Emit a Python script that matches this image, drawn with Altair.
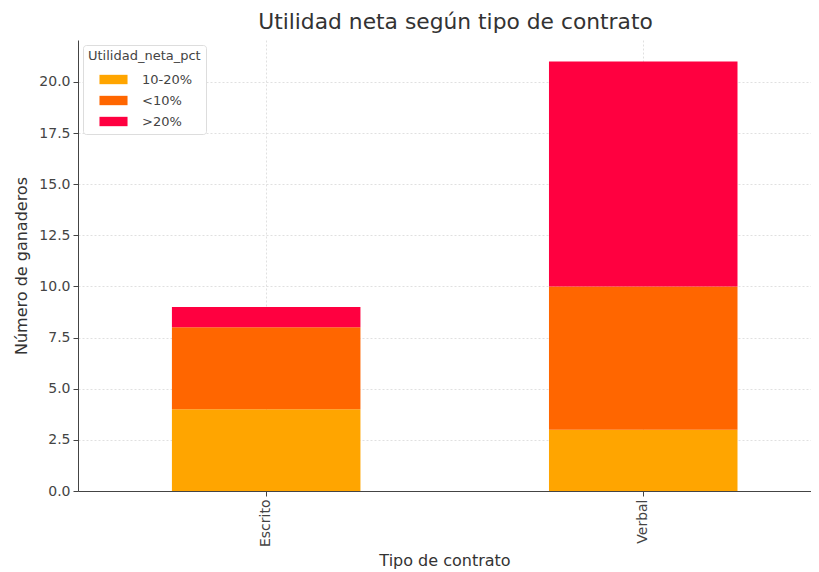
import altair as alt
import pandas as pd

contratos = ["Escrito", "Verbal"]
categorias = ["10-20%", "<10%", ">20%"]
val_10_20 = [4, 3]
val_menos10 = [4, 7]
val_mas20 = [1, 11]
colores = ["#FFA500", "#FF6600", "#FF0040"]
y_ticks = [0, 2.5, 5, 7.5, 10, 12.5, 15, 17.5, 20]

series = [val_10_20, val_menos10, val_mas20]
rows = []
for i, (cat, vals) in enumerate(zip(categorias, series)):
    for c, v in zip(contratos, vals):
        rows.append({"Tipo de contrato": c, "Utilidad_neta_pct": cat, "n": v, "orden": i})
df = pd.DataFrame(rows)

FONT = "DejaVu Sans"

chart = alt.Chart(df).mark_bar().encode(
    x=alt.X(
        "Tipo de contrato:N",
        sort=contratos,
        scale=alt.Scale(paddingInner=0.5, paddingOuter=0.222, align=0.561),
        axis=alt.Axis(
            title="Tipo de contrato",
            labelAngle=270,
            bandPosition=0.5,
            grid=True,
            gridColor="#d8d8d8",
            gridDash=[2, 2],
            gridWidth=0.8,
            tickSize=5,
            labelPadding=3,
            titlePadding=6,
        ),
    ),
    y=alt.Y(
        "n:Q",
        stack="zero",
        scale=alt.Scale(domain=[0, 22.05], nice=False),
        axis=alt.Axis(
            values=y_ticks,
            format=".1f",
            title="Número de ganaderos",
            grid=True,
            gridColor="#d8d8d8",
            gridDash=[2, 2],
            gridWidth=0.8,
            tickSize=5,
            labelPadding=3,
            titlePadding=9,
        ),
    ),
    color=alt.Color(
        "Utilidad_neta_pct:N",
        sort=categorias,
        scale=alt.Scale(domain=categorias, range=colores),
        legend=alt.Legend(
            title="Utilidad_neta_pct",
            orient="none",
            legendX=5,
            legendY=5,
            fillColor="white",
            strokeColor="#dddddd",
            cornerRadius=3,
            padding=5,
            titleFontSize=13,
            titleFontWeight="normal",
            titleColor="#444444",
            titleFont=FONT,
            labelFontSize=13,
            labelColor="#444444",
            labelFont=FONT,
            symbolType="M-1.5,-0.5H1.5V0.5H-1.5Z",
            symbolSize=350,
            symbolStrokeWidth=0,
            symbolOpacity=1,
            symbolOffset=16,
            rowPadding=4,
            labelOffset=19,
            titlePadding=7,
        ),
    ),
    order=alt.Order("orden:Q"),
).properties(
    width=733,
    height=451,
    title=alt.TitleParams(
        "Utilidad neta según tipo de contrato",
        fontSize=21.8,
        font=FONT,
        fontWeight="normal",
        color="#333333",
        offset=6,
        dx=11,
    ),
    padding={"left": 5, "top": 4, "right": 0, "bottom": 0},
).configure_view(
    stroke=None
).configure_axis(
    labelFont=FONT,
    titleFont=FONT,
    labelFontSize=14,
    titleFontSize=16,
    labelColor="#444444",
    titleColor="#333333",
    titleFontWeight="normal",
    domainColor="#444444",
    tickColor="#444444",
    domainWidth=1,
)

chart.save("out.html", embed_options={"renderer": "svg", "actions": False})
